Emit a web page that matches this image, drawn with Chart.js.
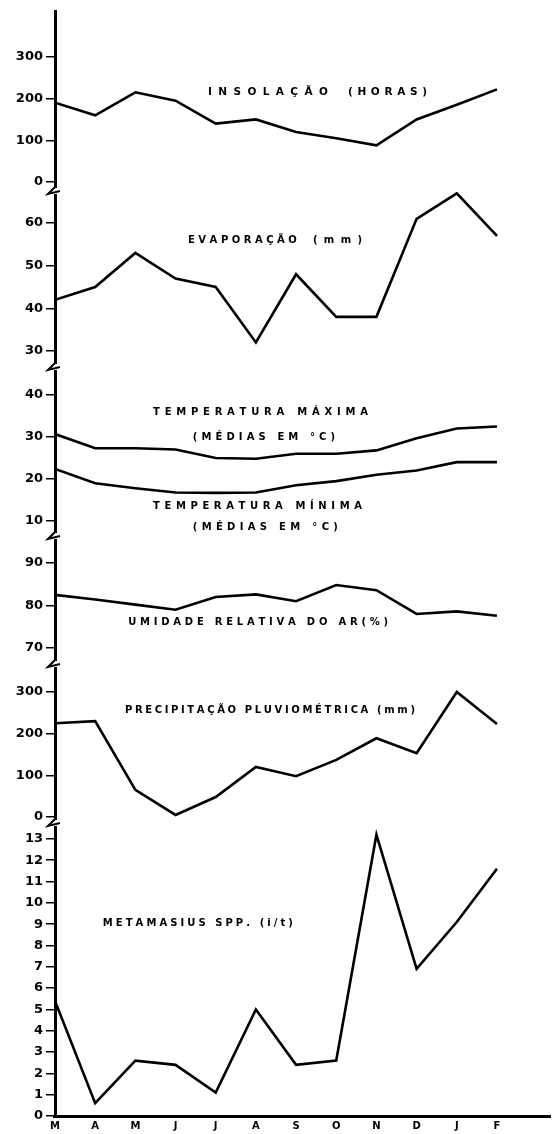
<!DOCTYPE html>
<html>
<head>
<meta charset="utf-8">
<script src="https://cdn.jsdelivr.net/npm/chart.js@4.4.1/dist/chart.umd.min.js"></script>
<style>
  html, body { margin: 0; padding: 0; background: #fff; }
</style>
</head>
<body>
<canvas id="myChart" width="554" height="1134"></canvas>
<script>
const months = ["M", "A", "M", "J", "J", "A", "S", "O", "N", "D", "J", "F"];

const insolacao = [190, 160, 215, 195, 140, 150, 120, 105, 88, 150, 185, 222];
const evaporacao = [42, 45, 53, 47, 45, 32, 48, 38, 38, 61, 67, 57];
const tempMaxima = [30.7, 27.3, 27.3, 27, 25, 24.8, 26, 26, 26.8, 29.7, 32, 32.5];
const tempMinima = [22.4, 19, 17.8, 16.8, 16.7, 16.8, 18.5, 19.5, 21, 22, 24, 24];
const umidade = [82.5, 81.4, 80.2, 79, 82, 82.6, 81, 84.8, 83.6, 78, 78.6, 77.6];
const precipitacao = [225, 230, 65, 5, 48, 120, 98, 137, 189, 153, 300, 223];
const metamasius = [5.4, 0.6, 2.6, 2.4, 1.1, 5, 2.4, 2.6, 13.2, 6.9, 9.1, 11.6];

const ticksInsolacao = [0, 100, 200, 300];
const ticksEvaporacao = [30, 40, 50, 60];
const ticksTemperatura = [10, 20, 30, 40];
const ticksUmidade = [70, 80, 90];
const ticksPrecipitacao = [0, 100, 200, 300];
const ticksMetamasius = [0, 1, 2, 3, 4, 5, 6, 7, 8, 9, 10, 11, 12, 13];

const FONT = "'DejaVu Sans', sans-serif";

function pts(arr) {
  return arr.map((v, i) => ({ x: i, y: v }));
}

function serie(arr, axis) {
  return {
    data: pts(arr),
    yAxisID: axis,
    borderColor: "#000",
    borderWidth: 2.6,
    pointRadius: 0,
    tension: 0,
    fill: false
  };
}

function eixoY(min, max, valores, peso) {
  return {
    type: "linear",
    position: "left",
    stack: "paineis",
    stackWeight: peso,
    min: min,
    max: max,
    border: { color: "#000", width: 3 },
    grid: { drawOnChartArea: false, color: "#000", lineWidth: 1.5, tickLength: 9 },
    ticks: {
      color: "#000",
      padding: 3,
      autoSkip: false,
      font: { family: FONT, weight: "bold", size: 13 },
      callback: v => String(v)
    },
    afterBuildTicks: s => { s.ticks = valores.map(v => ({ value: v })); },
    afterFit: s => { s.width = 55; }
  };
}

// panel titles, anchored on the scales
const rotulos = [
  { text: "INSOLAÇÃO", axis: "yIns", x0: 3.81, x1: 6.79, y: 214, size: 10.5 },
  { text: "(HORAS)", axis: "yIns", x0: 7.29, x1: 9.26, y: 214, size: 10.5 },
  { text: "EVAPORAÇÃO", axis: "yEva", x0: 3.31, x1: 6.02, y: 55.9, size: 10 },
  { text: "(mm)", axis: "yEva", x0: 6.42, x1: 7.64, y: 55.9, size: 10 },
  { text: "TEMPERATURA MÁXIMA", axis: "yTemp", x0: 2.44, x1: 7.79, y: 35.9, size: 10 },
  { text: "(MÉDIAS EM °C)", axis: "yTemp", x0: 3.43, x1: 6.97, y: 30.0, size: 10 },
  { text: "TEMPERATURA MÍNIMA", axis: "yTemp", x0: 2.44, x1: 7.64, y: 13.4, size: 10 },
  { text: "(MÉDIAS EM °C)", axis: "yTemp", x0: 3.43, x1: 7.04, y: 8.6, size: 10 },
  { text: "UMIDADE RELATIVA DO AR(%)", axis: "yUmi", x0: 1.82, x1: 8.29, y: 76, size: 10 },
  { text: "PRECIPITAÇÃO PLUVIOMÉTRICA (mm)", axis: "yPre", x0: 1.74, x1: 8.96, y: 257, size: 10 },
  { text: "METAMASIUS SPP. (i/t)", axis: "yMet", x0: 1.19, x1: 5.92, y: 9.04, size: 10 }
];

const pluginRotulos = {
  id: "rotulos",
  afterDatasetsDraw(chart) {
    const ctx = chart.ctx;
    const xs = chart.scales.x;
    ctx.save();
    ctx.fillStyle = "#000";
    ctx.textBaseline = "middle";
    ctx.textAlign = "left";
    rotulos.forEach(r => {
      ctx.font = "bold " + r.size + "px " + FONT;
      const chars = Array.from(r.text);
      const larguras = chars.map(c => ctx.measureText(c).width);
      const total = larguras.reduce((a, b) => a + b, 0);
      const p0 = xs.getPixelForValue(r.x0);
      const p1 = xs.getPixelForValue(r.x1);
      const gap = chars.length > 1 ? (p1 - p0 - total) / (chars.length - 1) : 0;
      const py = chart.scales[r.axis].getPixelForValue(r.y);
      let px = p0;
      chars.forEach((c, i) => {
        ctx.fillText(c, px, py);
        px += larguras[i] + gap;
      });
    });
    ctx.restore();
  }
};

// axis break marks between the stacked panels
const pluginQuebras = {
  id: "quebras",
  afterDraw(chart) {
    const ctx = chart.ctx;
    const ax = chart.chartArea.left;
    ctx.save();
    ["yEva", "yTemp", "yUmi", "yPre", "yMet"].forEach(id => {
      const yb = chart.scales[id].top;
      ctx.fillStyle = "#fff";
      ctx.fillRect(ax - 3, yb - 4, 7, 6);
      ctx.strokeStyle = "#000";
      ctx.lineWidth = 2;
      ctx.beginPath();
      ctx.moveTo(ax, yb - 5);
      ctx.lineTo(ax - 7, yb + 2);
      ctx.lineTo(ax + 5, yb - 1);
      ctx.stroke();
    });
    ctx.restore();
  }
};

new Chart(document.getElementById("myChart"), {
  type: "line",
  data: {
    datasets: [
      serie(metamasius, "yMet"),
      serie(precipitacao, "yPre"),
      serie(umidade, "yUmi"),
      serie(tempMaxima, "yTemp"),
      serie(tempMinima, "yTemp"),
      serie(evaporacao, "yEva"),
      serie(insolacao, "yIns")
    ]
  },
  options: {
    responsive: false,
    animation: false,
    devicePixelRatio: 1,
    layout: { padding: { top: 11, right: 4, bottom: 0, left: 0 } },
    plugins: {
      legend: { display: false },
      tooltip: { enabled: false },
      title: { display: false }
    },
    scales: {
      x: {
        type: "linear",
        min: 0,
        max: 12.32,
        border: { color: "#000", width: 3 },
        grid: { drawOnChartArea: false, drawTicks: false },
        ticks: {
          color: "#000",
          padding: 4,
          maxRotation: 0,
          autoSkip: false,
          font: { family: FONT, weight: "bold", size: 10 },
          callback: (v, i) => months[i]
        },
        afterBuildTicks: s => { s.ticks = months.map((m, i) => ({ value: i })); },
        afterFit: s => { s.height = 18; }
      },
      yMet: eixoY(0, 13.7, ticksMetamasius, 292),
      yPre: eixoY(-16.8, 364.8, ticksPrecipitacao, 159),
      yUmi: eixoY(66, 96.1, ticksUmidade, 128),
      yTemp: eixoY(6.2, 46.4, ticksTemperatura, 169),
      yEva: eixoY(26, 67.3, ticksEvaporacao, 176),
      yIns: eixoY(-24, 410, ticksInsolacao, 181)
    }
  },
  plugins: [pluginRotulos, pluginQuebras]
});
</script>
</body>
</html>
